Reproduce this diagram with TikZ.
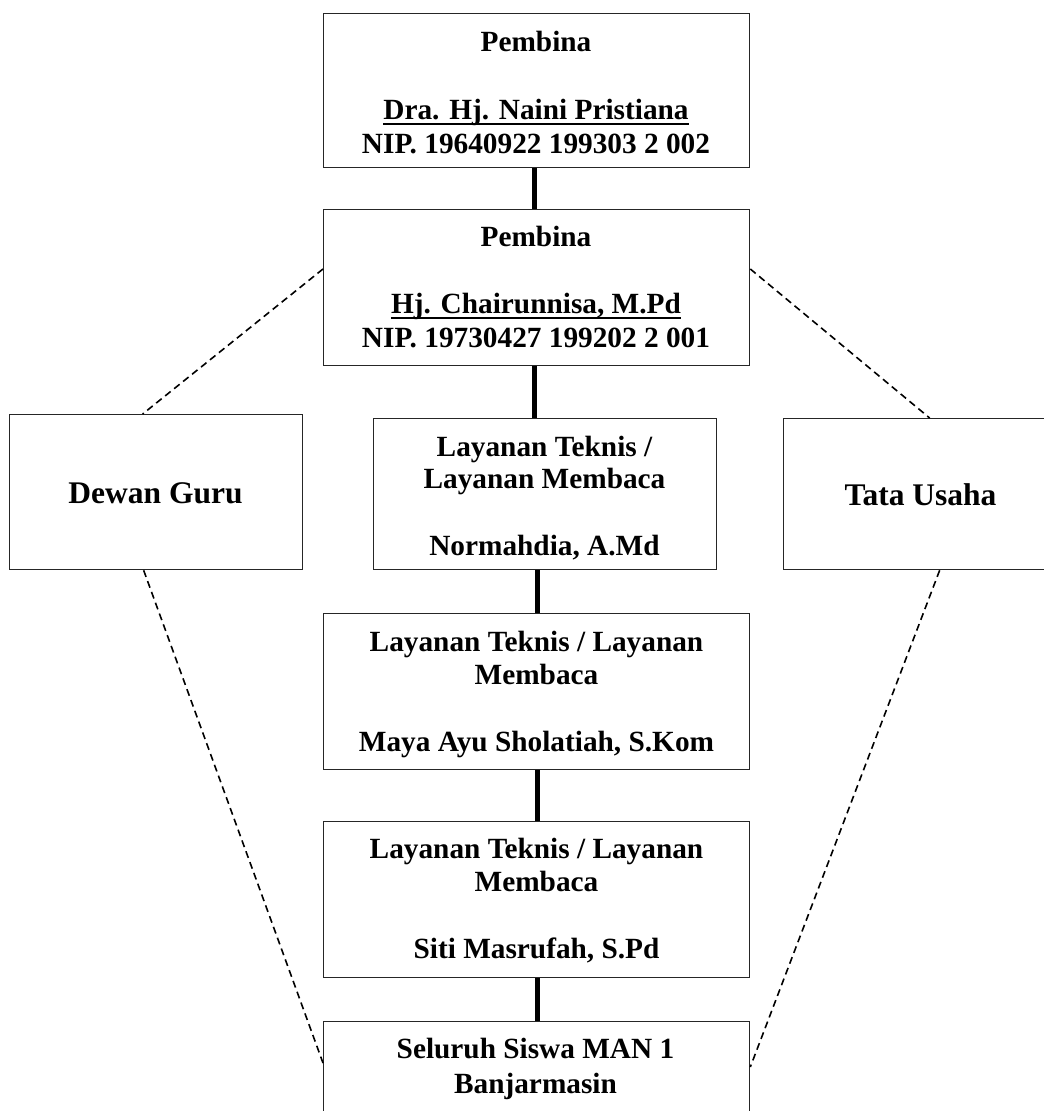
\documentclass[tikz,border=0pt]{standalone}
\usepackage{fontspec}
\setmainfont{Liberation Serif}
\begin{document}
\begin{tikzpicture}[x=1pt,y=-1pt,
  box/.style={draw=black!85, line width=1.3pt, inner sep=0pt, anchor=north west, fill=white},
  txt/.style={inner sep=0pt, anchor=base, font=\fontsize{29.3}{34}\selectfont\bfseries},
  sidetxt/.style={inner sep=0pt, anchor=base, font=\fontsize{31.5}{36}\selectfont\bfseries},
  link/.style={line width=4.6pt},
  dashlink/.style={line width=1.6pt, dash pattern=on 7pt off 4.5pt},
  uline/.style={line width=1.8pt}]
\useasboundingbox (0,0) rectangle (1044,1111);
\clip (0,0) rectangle (1044,1111);

% boxes
\node[box, minimum width=426pt, minimum height=154pt] (b1) at (323,13) {};
\node[box, minimum width=426pt, minimum height=156pt] (b2) at (323,209) {};
\node[box, minimum width=293pt, minimum height=155pt] (dg) at (9,414) {};
\node[box, minimum width=280pt, minimum height=151pt] (tu) at (783,418) {};
\node[box, minimum width=343pt, minimum height=151pt] (l1) at (373,418) {};
\node[box, minimum width=426pt, minimum height=156pt] (b4) at (323,613) {};
\node[box, minimum width=426pt, minimum height=156pt] (b5) at (323,821) {};
\node[box, minimum width=426pt, minimum height=130pt] (b6) at (323,1021) {};

% thick connectors
\draw[link] ([xshift=-2pt]b1.south) -- ([xshift=-2pt]b2.north);
\draw[link] ([xshift=-2pt]b2.south) -- ([xshift=-10.5pt]l1.north);
\draw[link] ([xshift=-7.5pt]l1.south) -- ([xshift=1pt]b4.north);
\draw[link] ([xshift=1pt]b4.south) -- ([xshift=1pt]b5.north);
\draw[link] ([xshift=1pt]b5.south) -- ([xshift=1pt]b6.north);

% dashed connectors
\draw[dashlink] ([yshift=-60pt]b2.north west) -- ([xshift=-13.5pt]dg.north);
\draw[dashlink] ([yshift=-60pt]b2.north east) -- ([xshift=6pt]tu.north);
\draw[dashlink] ([xshift=-12.5pt]dg.south) -- ([yshift=-42pt]b6.north west);
\draw[dashlink] ([xshift=16pt]tu.south) -- ([yshift=-46pt]b6.north east);

% texts box 1
\node[txt] (t1a) at (536,51) {Pembina};
\node[txt] (t1b) at (536,119) {Dra. Hj. Naini Pristiana};
\node[txt] (t1c) at (536,153) {NIP. 19640922 199303 2 002};
\draw[uline] ([yshift=-5pt]t1b.base west) -- ([yshift=-5pt]t1b.base east);

% box 2
\node[txt] (t2a) at (536,246) {Pembina};
\node[txt] (t2b) at (536,313) {Hj. Chairunnisa, M.Pd};
\node[txt] (t2c) at (536,347) {NIP. 19730427 199202 2 001};
\draw[uline] ([yshift=-5pt]t2b.base west) -- ([yshift=-5pt]t2b.base east);

% side boxes
\node[sidetxt] (tdg) at (155.5,503) {Dewan Guru};
\node[sidetxt] (ttu) at (920.5,505) {Tata Usaha};

% layanan 1
\node[txt] (t3a) at (544.5,456) {Layanan Teknis /};
\node[txt] (t3b) at (544.5,488) {Layanan Membaca};
\node[txt] (t3c) at (544.5,555) {Normahdia, A.Md};

% layanan 2
\node[txt] (t4a) at (536.5,651) {Layanan Teknis / Layanan};
\node[txt] (t4b) at (536.5,684) {Membaca};
\node[txt] (t4c) at (536.5,751) {Maya Ayu Sholatiah, S.Kom};

% layanan 3
\node[txt] (t5a) at (536.5,858) {Layanan Teknis / Layanan};
\node[txt] (t5b) at (536.5,891) {Membaca};
\node[txt] (t5c) at (536.5,958) {Siti Masrufah, S.Pd};

% bottom
\node[txt] (t6a) at (535.5,1058) {Seluruh Siswa MAN 1};
\node[txt] (t6b) at (535.5,1093) {Banjarmasin};
\end{tikzpicture}
\end{document}
